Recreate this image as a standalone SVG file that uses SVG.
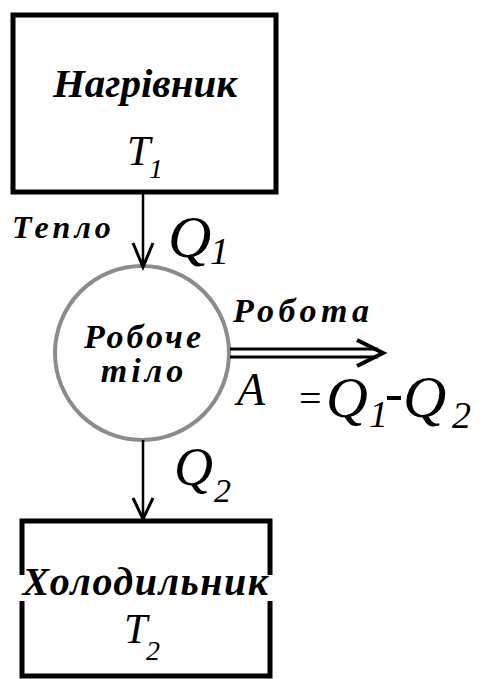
<svg xmlns="http://www.w3.org/2000/svg" width="485" height="679" viewBox="0 0 485 679">
<rect width="485" height="679" fill="#fff"/>
<g id="heater">
<rect x="13" y="15" width="263" height="177" fill="#fff" stroke="#000" stroke-width="5"/>
<text style="font-family:'Liberation Serif','Times New Roman',serif;font-style:italic;font-weight:bold;font-size:41px" x="145" y="97" text-anchor="middle">Нагрівник</text>
<text style="font-family:'Liberation Serif','Times New Roman',serif;font-style:italic;font-size:42px" x="127" y="165">T</text>
<text style="font-family:'Liberation Serif','Times New Roman',serif;font-style:italic;font-size:28px" x="149" y="178">1</text>
</g>
<g id="body">
<circle cx="142" cy="353" r="87" fill="#fff" stroke="#8c8c8c" stroke-width="4"/>
<text style="font-family:'Liberation Serif','Times New Roman',serif;font-style:italic;font-weight:bold;font-size:34px;letter-spacing:3px" x="144" y="348" text-anchor="middle">Робоче</text>
<text style="font-family:'Liberation Serif','Times New Roman',serif;font-style:italic;font-weight:bold;font-size:34px;letter-spacing:4px" x="144" y="382" text-anchor="middle">тіло</text>
</g>
<g id="cooler">
<rect x="22" y="521" width="248" height="155" fill="#fff" stroke="#000" stroke-width="5"/>
<rect x="17" y="575" width="10" height="26" fill="#fff"/>
<rect x="265" y="575" width="10" height="26" fill="#fff"/>
<text style="font-family:'Liberation Serif','Times New Roman',serif;font-style:italic;font-weight:bold;font-size:40px;letter-spacing:1.5px" x="146" y="595" text-anchor="middle">Холодильник</text>
<text style="font-family:'Liberation Serif','Times New Roman',serif;font-style:italic;font-size:42px" x="124" y="643">T</text>
<text style="font-family:'Liberation Serif','Times New Roman',serif;font-style:italic;font-size:28px" x="146" y="660">2</text>
</g>
<g id="connectors" stroke="#000" fill="none">
<line x1="143" y1="192" x2="143" y2="267" stroke-width="2.5"/>
<path d="M133,243 L143,267 L153,243" stroke-width="3"/>
<line x1="143" y1="440" x2="143" y2="519" stroke-width="2.5"/>
<path d="M133,498 L143,519 L153,498" stroke-width="3"/>
<line x1="230" y1="349" x2="378" y2="349" stroke-width="3"/>
<line x1="230" y1="357" x2="378" y2="357" stroke-width="3"/>
<path d="M357,340 L383,353 L357,366" stroke-width="4"/>
</g>
<g id="labels">
<text style="font-family:'Liberation Serif','Times New Roman',serif;font-style:italic;font-weight:bold;font-size:32px;letter-spacing:4px" x="12" y="238">Тепло</text>
<text style="font-family:'Liberation Serif','Times New Roman',serif;font-style:italic;font-size:60px" x="168" y="257">Q</text>
<text style="font-family:'Liberation Serif','Times New Roman',serif;font-style:italic;font-size:38px" x="210" y="264">1</text>
<text style="font-family:'Liberation Serif','Times New Roman',serif;font-style:italic;font-weight:bold;font-size:34px;letter-spacing:4.5px" x="233" y="322">Робота</text>
<text style="font-family:'Liberation Serif','Times New Roman',serif;font-style:italic;font-size:46px" x="237" y="405">A</text>
<text style="font-family:'Liberation Serif','Times New Roman',serif;font-size:40px" x="299" y="412">=</text>
<text style="font-family:'Liberation Serif','Times New Roman',serif;font-style:italic;font-size:58px" x="326" y="417">Q</text>
<text style="font-family:'Liberation Serif','Times New Roman',serif;font-style:italic;font-size:38px" x="369" y="427">1</text>
<rect x="387" y="396" width="14" height="4" fill="#000"/>
<text style="font-family:'Liberation Serif','Times New Roman',serif;font-style:italic;font-size:60px" x="403" y="417">Q</text>
<text style="font-family:'Liberation Serif','Times New Roman',serif;font-style:italic;font-size:38px" x="452" y="428">2</text>
<text style="font-family:'Liberation Serif','Times New Roman',serif;font-style:italic;font-size:54px" x="174" y="485">Q</text>
<text style="font-family:'Liberation Serif','Times New Roman',serif;font-style:italic;font-size:34px" x="214" y="502">2</text>
</g>
</svg>
